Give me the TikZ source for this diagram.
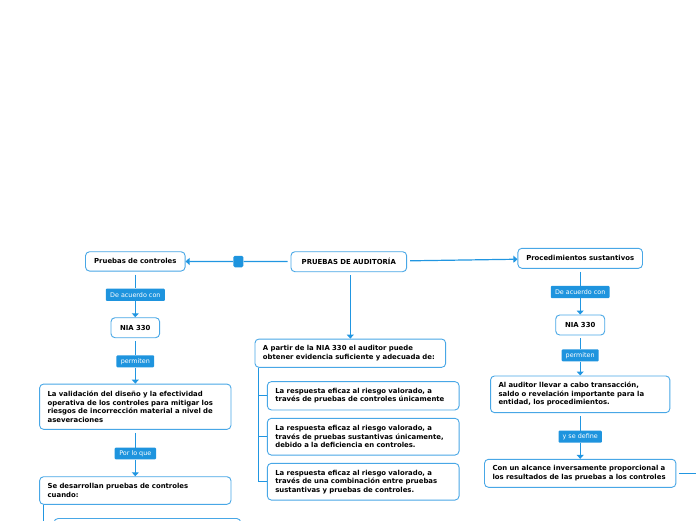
\documentclass[tikz,border=0pt]{standalone}
\usepackage{fontspec}
\setmainfont{DejaVu Sans}
\usetikzlibrary{arrows.meta}
\definecolor{bordc}{RGB}{72,167,230}
\definecolor{linec}{RGB}{33,150,225}
\definecolor{labc}{RGB}{30,148,222}
\tikzset{
  box/.style={draw=bordc, line width=0.9pt, rounded corners=4pt, fill=white,
    font=\fontsize{6.9}{8.5}\selectfont\bfseries, inner xsep=8pt, inner ysep=2pt, align=left},
  cbox/.style={box, align=center},
  lab/.style={fill=labc, text=white, rounded corners=1pt,
    font=\fontsize{6.4}{7.5}\selectfont, inner sep=0pt},
  knobst/.style={fill=labc, rounded corners=1.5pt, inner sep=0pt},
  conn/.style={draw=linec, line width=1.2pt},
  arr/.style={conn, -{Triangle[width=7pt,length=4pt]}},
}
\begin{document}
\begin{tikzpicture}[x=1pt,y=-1pt]
\useasboundingbox (0,0) rectangle (696,520);
\clip (0,0) rectangle (696,520);
% top
\node[cbox, text width=99.7pt, minimum height=20pt] (pa) at (348.8,261.7) {PRUEBAS DE AUDITORÍA};
\node[knobst, minimum width=10pt, minimum height=11.5pt] (knob) at (238.3,261.5) {};
% left column
\node[cbox, text width=83.6pt, minimum height=19.3pt] (pc) at (135.3,261.4) {Pruebas de controles};
\node[lab, minimum width=59pt, minimum height=12.3pt] (l1) at (135.3,294.8) {De acuerdo con};
\node[cbox, text width=32.6pt, minimum height=20pt] (n1) at (135.3,327.7) {NIA 330};
\node[lab, minimum width=37.7pt, minimum height=12pt] (l2) at (135.3,361.3) {permiten};
\node[box, text width=175.4pt, minimum height=45.3pt] (v1) at (135.3,406.7)
  {La validación del diseño y la efectividad\\operativa de los controles para mitigar los\\riesgos de incorrección material a nivel de\\aseveraciones};
\node[lab, minimum width=41.4pt, minimum height=11.6pt] (l3) at (135.3,453.5) {Por lo que};
\node[box, text width=175.4pt, minimum height=27.6pt] (s1) at (135.3,490.5)
  {Se desarrollan pruebas de controles\\cuando:};
\node[box, text width=170.7pt, minimum height=43pt] (s2) at (147.4,540) {};
% middle column
\node[box, text width=174.7pt, minimum height=28.3pt] (ap) at (350.3,353.2)
  {A partir de la NIA 330 el auditor puede\\obtener evidencia suficiente y adecuada de:};
\node[box, text width=175.7pt, minimum height=28.3pt] (m1) at (363.2,395.8)
  {La respuesta eficaz al riesgo valorado, a\\través de pruebas de controles únicamente};
\node[box, text width=175.7pt, minimum height=36.7pt] (m2) at (363.2,436.7)
  {La respuesta eficaz al riesgo valorado, a\\través de pruebas sustantivas únicamente,\\debido a la deficiencia en controles.};
\node[box, text width=175.7pt, minimum height=36.7pt] (m3) at (363.2,481.7)
  {La respuesta eficaz al riesgo valorado, a\\través de una combinación entre pruebas\\sustantivas y pruebas de controles.};
% right column
\node[cbox, text width=108.6pt, minimum height=20pt] (ps) at (580.2,258.3) {Procedimientos sustantivos};
\node[lab, minimum width=58.7pt, minimum height=12.3pt] (l4) at (580.2,292) {De acuerdo con};
\node[cbox, text width=33pt, minimum height=20pt] (n2) at (580.2,325) {NIA 330};
\node[lab, minimum width=37pt, minimum height=12pt] (l5) at (580.2,355.3) {permiten};
\node[box, text width=163.3pt, minimum height=36.7pt] (al) at (580.2,394.3)
  {Al auditor llevar a cabo transacción,\\saldo o revelación importante para la\\entidad, los procedimientos.};
\node[lab, minimum width=43.4pt, minimum height=12pt] (l6) at (580.2,436.7) {y se define};
\node[box, text width=175.4pt, minimum height=28pt] (ca) at (580.2,473.3)
  {Con un alcance inversamente proporcional a\\los resultados de las pruebas a los controles};
\coordinate (edge) at (700,473.3);
% connectors top
\draw[conn, shorten <=3pt] (pa) -- (knob);
\draw[arr] (knob) -- (pc);
\draw[arr, shorten <=3pt] (pa) -- (ps);
\draw[arr, shorten <=3pt] (ap.north |- pa.south) -- (ap.north);
% left
\draw[conn, shorten <=3pt] (pc) -- (l1);
\draw[arr] (l1) -- (n1);
\draw[conn, shorten <=3pt] (n1) -- (l2);
\draw[arr] (l2) -- (v1);
\draw[conn, shorten <=3pt] (v1) -- (l3);
\draw[arr] (l3) -- (s1);
\draw[conn] (s1.south west) ++(4.7,0) |- (s2.west);
% middle tree
\draw[conn] (ap.south west) ++(4,0) |- (m1.west);
\draw[conn] (ap.south west) ++(4,0) |- (m2.west);
\draw[conn] (ap.south west) ++(4,0) |- (m3.west);
% right
\draw[conn, shorten <=3pt] (ps) -- (l4);
\draw[arr] (l4) -- (n2);
\draw[conn, shorten <=3pt] (n2) -- (l5);
\draw[arr] (l5) -- (al);
\draw[conn, shorten <=3pt] (al) -- (l6);
\draw[arr] (l6) -- (ca);
\draw[conn, shorten <=3pt] (ca) -- (edge);
\end{tikzpicture}
\end{document}
